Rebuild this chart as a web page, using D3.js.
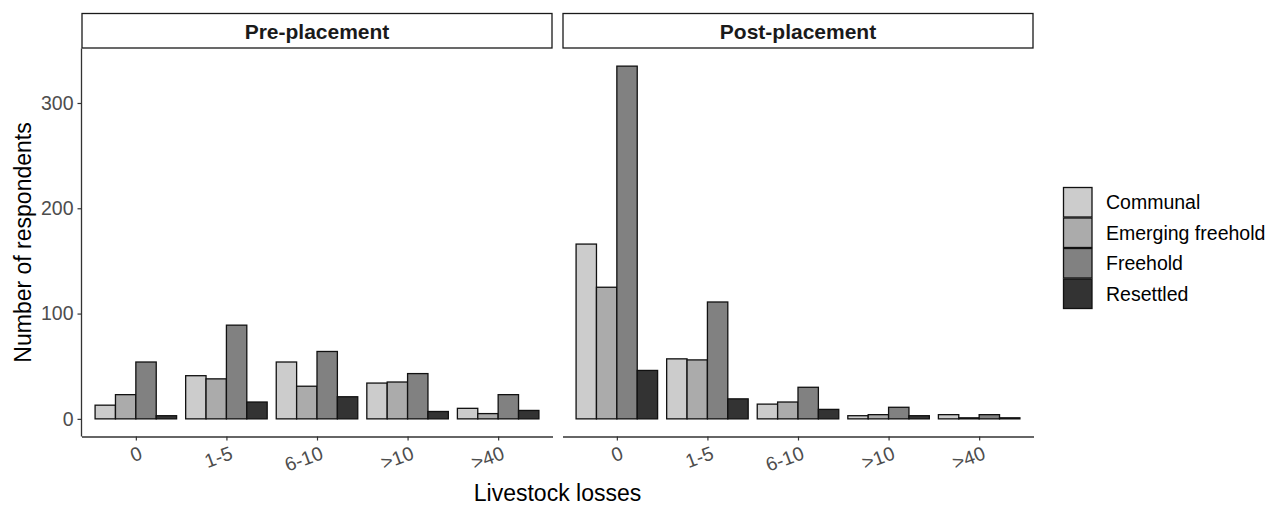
<!DOCTYPE html>
<html>
<head>
<meta charset="utf-8">
<script src="https://cdn.jsdelivr.net/npm/d3@7"></script>
<style>
  body { margin: 0; background: #fff; }
  text { font-family: "Liberation Sans", Arial, sans-serif; }
</style>
</head>
<body>
<div id="chart"></div>
<script>
// categories and series
const lossCats = ["0", "1-5", "6-10", ">10", ">40"];
const periods = ["Pre-placement", "Post-placement"];
const tenures = ["Communal", "Emerging freehold", "Freehold", "Resettled"];
const tenureFills = ["#cccccc", "#ababab", "#818181", "#333333"];
const yTicks = [0, 100, 200, 300];

const preCommunal = [13, 41, 54, 34, 10];
const preEmerging = [23, 38, 31, 35, 5];
const preFreehold = [54, 89, 64, 43, 23];
const preResettled = [3, 16, 21, 7, 8];

const postCommunal = [166, 57, 14, 3, 4];
const postEmerging = [125, 56, 16, 4, 1];
const postFreehold = [335, 111, 30, 11, 4];
const postResettled = [46, 19, 9, 3, 1];

const seriesByPeriod = {
  "Pre-placement": [preCommunal, preEmerging, preFreehold, preResettled],
  "Post-placement": [postCommunal, postEmerging, postFreehold, postResettled]
};

// flatten into rows
var rows = [];
periods.forEach(function (p) {
  seriesByPeriod[p].forEach(function (vals, ti) {
    vals.forEach(function (v, ci) {
      rows.push({ period: p, tenure: tenures[ti], cat: lossCats[ci], value: v });
    });
  });
});

var W = 1270, H = 505;
var panelTop = 48.5, panelBottom = 436.5;
var panelW = 471;
var panelX = { "Pre-placement": 81.5, "Post-placement": 562.5 };

var svg = d3.select("#chart").append("svg")
  .attr("width", W)
  .attr("height", H);

var maxV = d3.max(rows, function (d) { return d.value; });
var pad = maxV * 0.05;
var y = d3.scaleLinear()
  .domain([-pad, maxV + pad])
  .range([panelBottom, panelTop]);

var x = d3.scalePoint()
  .domain(lossCats)
  .range([0, panelW])
  .padding(0.6);

var step = x.step();
var xInner = d3.scaleBand()
  .domain(tenures)
  .range([-0.45 * step, 0.45 * step]);

var fill = d3.scaleOrdinal().domain(tenures).range(tenureFills);

periods.forEach(function (p, pi) {
  var g = svg.append("g")
    .attr("transform", "translate(" + panelX[p] + ",0)");

  // strip
  g.append("rect")
    .attr("x", 0.5)
    .attr("y", 13.5)
    .attr("width", panelW - 1)
    .attr("height", panelTop - 14)
    .attr("fill", "#fff")
    .attr("stroke", "#1a1a1a")
    .attr("stroke-width", 1.3);
  g.append("text")
    .attr("x", panelW / 2)
    .attr("y", 38.5)
    .attr("text-anchor", "middle")
    .style("font-size", "21px")
    .style("font-weight", "bold")
    .attr("fill", "#1a1a1a")
    .text(p);

  // bars
  g.selectAll(".bar")
    .data(rows.filter(function (d) { return d.period === p; }))
    .enter()
    .append("rect")
    .attr("class", "bar")
    .attr("x", function (d) { return x(d.cat) + xInner(d.tenure); })
    .attr("width", xInner.bandwidth())
    .attr("y", function (d) { return y(d.value); })
    .attr("height", function (d) { return y(0) - y(d.value); })
    .attr("fill", function (d) { return fill(d.tenure); })
    .attr("stroke", "#111")
    .attr("stroke-width", 1.3);

  // x axis
  var xAxis = g.append("g")
    .attr("transform", "translate(0," + panelBottom + ")")
    .call(d3.axisBottom(x).tickSize(4).tickSizeOuter(0));
  xAxis.select(".domain").attr("stroke", "#333").attr("stroke-width", 1.3);
  xAxis.selectAll(".tick line").attr("stroke", "#333").attr("stroke-width", 1.2);
  xAxis.selectAll(".tick text")
    .attr("fill", "#4d4d4d")
    .style("font-size", "19.5px")
    .attr("text-anchor", "end")
    .attr("dy", null)
    .attr("y", null)
    .attr("transform", "translate(7,22) rotate(-20)");

  // y axis only on first panel
  if (pi === 0) {
    var yAxis = g.append("g")
      .call(d3.axisLeft(y).tickValues(yTicks).tickSize(4).tickSizeOuter(0));
    yAxis.select(".domain").attr("stroke", "#333").attr("stroke-width", 1.3)
      .attr("d", "M0," + panelTop + "V" + panelBottom);
    yAxis.selectAll(".tick line").attr("stroke", "#333").attr("stroke-width", 1.2);
    yAxis.selectAll(".tick text")
      .attr("fill", "#4d4d4d")
      .style("font-size", "19.5px")
      .attr("x", -8);
  }
});

// axis titles
svg.append("text")
  .attr("x", (81.5 + 562.5 + panelW) / 2)
  .attr("y", 501)
  .attr("text-anchor", "middle")
  .style("font-size", "23px")
  .attr("fill", "#000")
  .text("Livestock losses");

svg.append("text")
  .attr("transform", "translate(31," + ((panelTop + panelBottom) / 2) + ") rotate(-90)")
  .attr("text-anchor", "middle")
  .style("font-size", "23px")
  .attr("fill", "#000")
  .text("Number of respondents");

// legend
var legend = svg.append("g").attr("transform", "translate(1063,187)");
var keyH = 30.5;
tenures.forEach(function (t, i) {
  legend.append("rect")
    .attr("x", 0.5)
    .attr("y", i * keyH + 0.5)
    .attr("width", 28.5)
    .attr("height", keyH - 1)
    .attr("fill", fill(t))
    .attr("stroke", "#111")
    .attr("stroke-width", 1.3);
  legend.append("text")
    .attr("x", 43)
    .attr("y", i * keyH + keyH / 2)
    .attr("dy", "0.36em")
    .style("font-size", "19.5px")
    .attr("fill", "#000")
    .text(t);
});
</script>
</body>
</html>
